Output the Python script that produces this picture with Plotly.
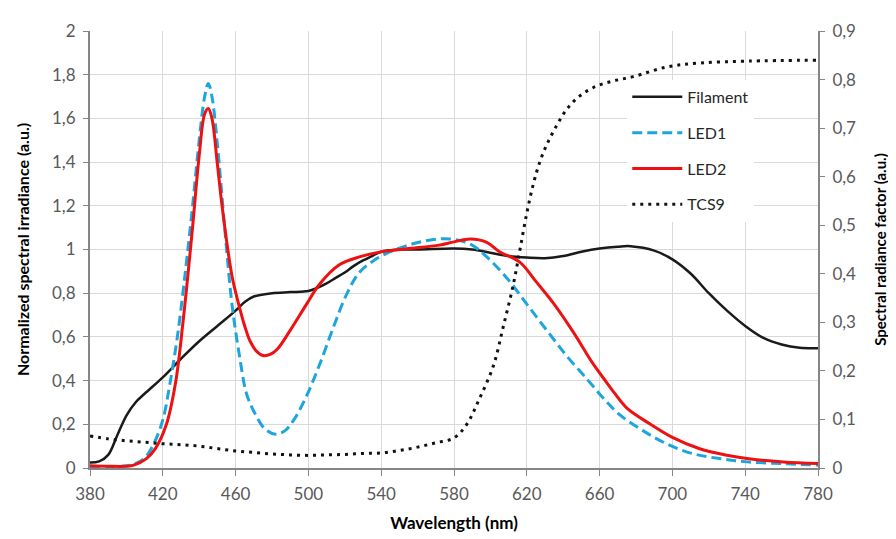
import plotly.graph_objects as go

# ---- data ----
fil_wl = [380, 385, 390, 395, 400, 405, 410, 420, 430, 440, 450, 460, 465, 470, 480, 490, 500, 505, 510, 515,
          520, 525, 530, 535, 540, 550, 560, 580, 590, 600, 610, 620, 630, 640, 650, 660, 670, 677, 690, 700,
          710, 720, 730, 740, 750, 760, 770, 780]
fil_val = [0.025, 0.03, 0.06, 0.15, 0.24, 0.30, 0.34, 0.415, 0.50, 0.58, 0.65, 0.72, 0.76, 0.785, 0.80, 0.805,
           0.81, 0.825, 0.845, 0.87, 0.895, 0.925, 0.95, 0.97, 0.99, 1.0, 1.0, 1.005, 1.0, 0.985, 0.97, 0.963,
           0.96, 0.97, 0.99, 1.005, 1.013, 1.015, 0.995, 0.955, 0.89, 0.80, 0.72, 0.65, 0.595, 0.565, 0.55, 0.548]

led1_wl = [380, 390, 400, 405, 410, 415, 420, 424, 428, 432, 436, 440, 443, 445, 447, 450, 454, 458, 462, 466,
           470, 476, 482, 487, 492, 499, 506, 514, 521, 528, 536, 545, 557, 568, 578, 589, 598, 609, 620, 631,
           642, 653, 662, 671, 684, 697, 711, 726, 741, 761, 780]
led1_val = [0.005, 0.005, 0.01, 0.02, 0.045, 0.11, 0.22, 0.39, 0.60, 0.87, 1.17, 1.50, 1.70, 1.76, 1.70, 1.48,
            1.10, 0.75, 0.52, 0.34, 0.26, 0.18, 0.155, 0.17, 0.22, 0.33, 0.47, 0.65, 0.795, 0.895, 0.95, 0.99,
            1.025, 1.045, 1.048, 1.025, 0.966, 0.87, 0.75, 0.63, 0.512, 0.408, 0.32, 0.244, 0.17, 0.11, 0.066,
            0.043, 0.028, 0.02, 0.013]

led2_wl = [380, 390, 400, 404, 411, 416, 422, 427, 431, 436, 440, 443, 445, 447, 450, 453, 458, 462, 465, 468,
           472, 475, 479, 483, 490, 499, 506, 517, 528, 539, 554, 572, 580, 589, 598, 605, 616, 625, 635, 646,
           656, 664, 668, 675, 688, 700, 715, 730, 741, 761, 780]
led2_val = [0.01, 0.008, 0.008, 0.013, 0.043, 0.09, 0.20, 0.39, 0.66, 1.07, 1.43, 1.62, 1.645, 1.60, 1.39, 1.17,
            0.88, 0.74, 0.65, 0.58, 0.53, 0.515, 0.52, 0.545, 0.63, 0.75, 0.84, 0.93, 0.966, 0.988, 1.003, 1.02,
            1.035, 1.048, 1.033, 0.99, 0.943, 0.854, 0.75, 0.616, 0.482, 0.39, 0.345, 0.274, 0.20, 0.14, 0.088,
            0.058, 0.043, 0.028, 0.021]

tcs_wl = [380, 390, 400, 410, 420, 430, 440, 450, 460, 470, 480, 490, 500, 510, 520, 530, 540, 550, 560, 570,
          580, 587, 594, 601.6, 607, 612.6, 616.3, 620, 623.6, 627.3, 631, 636.5, 642, 649, 658, 667.5, 678.5,
          697, 715, 742, 780]
tcs_val = [0.066, 0.060, 0.056, 0.053, 0.050, 0.048, 0.045, 0.040, 0.035, 0.032, 0.029, 0.027, 0.026, 0.027,
           0.028, 0.030, 0.031, 0.036, 0.043, 0.052, 0.062, 0.09, 0.143, 0.21, 0.29, 0.378, 0.451, 0.525, 0.585,
           0.632, 0.666, 0.706, 0.739, 0.766, 0.786, 0.797, 0.806, 0.826, 0.834, 0.838, 0.84]

x_ticks = list(range(380, 781, 40))

FONT = "Lato"
TICKC = "#595959"

fig = go.Figure()
fig.add_trace(go.Scatter(x=fil_wl, y=fil_val, name="Filament", mode="lines", line_shape="spline",
                         line=dict(color="#1a1a1a", width=2.5), legendgroup="a"))
fig.add_trace(go.Scatter(x=led1_wl, y=led1_val, name="LED1", mode="lines", line_shape="spline",
                         line=dict(color="#1fa5dd", width=3, dash="10px,5px"), legendgroup="b"))
fig.add_trace(go.Scatter(x=led2_wl, y=led2_val, name="LED2", mode="lines", line_shape="spline",
                         line=dict(color="#ee1111", width=3), legendgroup="c"))
fig.add_trace(go.Scatter(x=tcs_wl, y=tcs_val, name="TCS9", mode="lines", line_shape="spline", yaxis="y2",
                         line=dict(color="#111111", width=3, dash="3px,5px"), legendgroup="d"))

fig.update_layout(
    width=896, height=539,
    margin=dict(l=82, r=86, t=12, b=79),
    paper_bgcolor="white", plot_bgcolor="white",
    separators=",.",
    font=dict(family=FONT, size=17, color=TICKC),
    showlegend=True,
    legend=dict(x=0.738, y=0.888, xanchor="left", yanchor="top", bgcolor="white",
                traceorder="grouped", tracegroupgap=12, itemwidth=50,
                font=dict(family=FONT, size=16, color="#262626")),
    xaxis=dict(range=[380, 780], tickvals=x_ticks, showgrid=True, gridcolor="#d9d9d9", gridwidth=1,
               showline=True, linecolor="#868686", linewidth=2, ticks="outside", ticklen=6,
               tickcolor="#868686", zeroline=False, ticklabelstandoff=4,
               title=dict(text="<b>Wavelength (nm)</b>", font=dict(family=FONT, size=17, color="#000"),
                          standoff=14)),
    yaxis=dict(range=[0, 2], dtick=0.2, tick0=0, showgrid=True, gridcolor="#d9d9d9", gridwidth=1,
               showline=True, linecolor="#868686", linewidth=2, ticks="outside", ticklen=5,
               tickcolor="#868686", zeroline=False, ticklabelstandoff=4,
               title=dict(text="<b>Normalized spectral irradiance (a.u.)</b>",
                          font=dict(family=FONT, size=16, color="#000"), standoff=18)),
    yaxis2=dict(range=[0, 0.9], dtick=0.1, tick0=0, overlaying="y", side="right", showgrid=False,
                showline=True, linecolor="#868686", linewidth=2, ticks="outside", ticklen=5,
                tickcolor="#868686", zeroline=False, ticklabelstandoff=4,
                title=dict(text="<b>Spectral radiance factor (a.u.)</b>",
                           font=dict(family=FONT, size=15, color="#000"), standoff=20)),
)

fig.write_html("out.html")
